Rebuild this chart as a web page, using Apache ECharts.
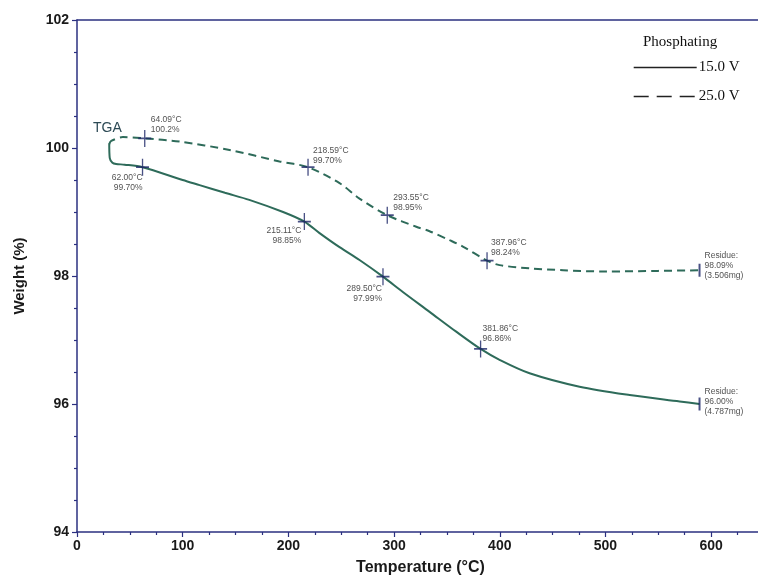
<!DOCTYPE html>
<html>
<head>
<meta charset="utf-8">
<title>TGA</title>
<script src="https://cdn.jsdelivr.net/npm/echarts@6/dist/echarts.min.js"></script>
<style>
html,body{margin:0;padding:0;background:#fff;}
#tga-echarts{width:758px;height:577px;}
</style>
</head>
<body>
<div id="tga-echarts"></div>
<script>
// 15.0 V curve (solid)
var temp15 = [30.5, 31, 33.5, 37, 45, 62.00, 100, 116, 140, 163, 195, 215.11, 229.5, 248.4, 267.3, 289.50, 308.3, 333.6, 358.8, 381.86, 399.8, 428.2, 475.5, 522.9, 570.2, 589],
	weight15 = [100.07, 99.84, 99.77, 99.75, 99.74, 99.70, 99.50, 99.42, 99.30, 99.19, 99.00, 98.85, 98.67, 98.45, 98.25, 97.99, 97.75, 97.44, 97.13, 96.86, 96.69, 96.48, 96.27, 96.14, 96.04, 96.00];

// 25.0 V curve (dashed)
var temp25 = [30.5, 32.4, 43.4, 64.09, 97, 144.3, 191.6, 218.59, 248.4, 267.3, 293.55, 321, 333.6, 352.5, 365.1, 387.96, 399.8, 428.2, 460, 500, 550, 589],
	weight25 = [100.06, 100.11, 100.17, 100.15, 100.10, 99.97, 99.79, 99.70, 99.45, 99.21, 98.95, 98.77, 98.70, 98.56, 98.46, 98.24, 98.17, 98.12, 98.09, 98.07, 98.08, 98.09];

// marked points
var mark15T = [62.00, 215.11, 289.50, 381.86],
	mark15W = [99.70, 98.85, 97.99, 96.86],
	mark15Txt = ['99.70%', '98.85%', '97.99%', '96.86%'],
	mark25T = [64.09, 218.59, 293.55, 387.96],
	mark25W = [100.15, 99.70, 98.95, 98.24],
	mark25Txt = ['100.2%', '99.70%', '98.95%', '98.24%'];

var residueT = [589, 589],
	residueW = [98.09, 96.00],
	residueMass = ['(3.506mg)', '(4.787mg)'];

var seriesNames = ['15.0 V', '25.0 V'],
	xTicks = [0, 650, 100],
	yTicks = [94, 102, 2];

var lineColor = '#2e6b5a',
	axisColor = '#2b3080',
	markColor = '#1c2566',
	plusPath = 'path://M5,0 L5,10 M0,5 L10,5';

function pairs(xs, ys){
	var out = [];
	for(var i=0;i<xs.length;i++) out.push([xs[i], ys[i]]);
	return out;
}

// label placement for each marker: [align, verticalAlign, dx, dy]
var place15 = [['right','top',0,5], ['right','top',-3,4], ['right','top',-1,7], ['left','bottom',2,-5]],
	place25 = [['left','bottom',6,-4], ['left','bottom',5,-2], ['left','bottom',6,-3], ['left','bottom',4,-3]];

function markItems(ts, ws, txt, place){
	var out = [];
	for(var i=0;i<ts.length;i++){
		out.push({
			value: [ts[i], ws[i]],
			label: {
				show: true,
				position: 'inside',
				align: place[i][0],
				verticalAlign: place[i][1],
				offset: [place[i][2], place[i][3]],
				formatter: ts[i].toFixed(2) + '°C\n' + txt[i]
			}
		});
	}
	return out;
}

var residueItems = [];
for(var i=0;i<residueT.length;i++){
	residueItems.push({
		value: [residueT[i], residueW[i]],
		label: {
			show: true,
			position: 'inside',
			align: 'left',
			verticalAlign: 'middle',
			offset: [5, i==0 ? -5 : -2],
			formatter: 'Residue:\n' + residueW[i].toFixed(2) + '%\n' + residueMass[i]
		}
	});
}

var markLabel = {
	color: '#1e1e1e',
	fontFamily: 'Liberation Sans, Arial, sans-serif',
	fontSize: 8.5,
	lineHeight: 10
};

var tga = echarts.init(document.querySelector('#tga-echarts'));

var tgaOption = {
	animation: false,
	backgroundColor: '#fff',
	grid: {
		left: 77,
		top: 20,
		width: 687,
		bottom: 45,
		outerBoundsMode: 'none'
	},
	title: {
		text: 'Phosphating',
		left: 638,
		top: 30,
		textStyle: {
			fontFamily: 'Liberation Serif, Times New Roman, serif',
			fontWeight: 'normal',
			fontSize: 15,
			color: '#111'
		}
	},
	legend: {
		orient: 'vertical',
		left: 628,
		top: 55,
		itemWidth: 63,
		itemHeight: 14,
		itemGap: 14,
		data: [
			{name: seriesNames[0], itemStyle: {opacity: 0}, lineStyle: {color: '#222', width: 1.4, type: 'solid'}},
			{name: seriesNames[1], itemStyle: {opacity: 0}, lineStyle: {color: '#222', width: 1.4, type: [15, 8]}}
		],
		textStyle: {
			fontFamily: 'Liberation Serif, Times New Roman, serif',
			fontSize: 15,
			color: '#111',
			padding: [0, 0, 0, -3]
		}
	},
	graphic: [{
		type: 'text',
		left: 93,
		top: 121,
		style: {
			text: 'TGA',
			font: '14px "Liberation Sans", Arial, sans-serif',
			fill: '#2d4a55'
		}
	}],
	xAxis: [{
		type: 'value',
		min: xTicks[0],
		max: xTicks[1],
		interval: xTicks[2],
		name: 'Temperature (°C)',
		nameLocation: 'middle',
		nameGap: 28,
		nameTextStyle: {
			fontFamily: 'Liberation Sans, Arial, sans-serif',
			fontSize: 16,
			fontWeight: 'bold',
			color: '#1a1a1a'
		},
		axisLine: {onZero: false, lineStyle: {color: axisColor, width: 1.5}},
		axisTick: {length: 5, lineStyle: {color: axisColor, width: 1.2}},
		minorTick: {show: true, splitNumber: 4, length: 3, lineStyle: {color: axisColor, width: 1.2}},
		splitLine: {show: false},
		axisLabel: {
			showMaxLabel: false,
			margin: 7,
			fontFamily: 'Liberation Sans, Arial, sans-serif',
			fontSize: 14,
			fontWeight: 'bold',
			color: '#1a1a1a'
		}
	}, {
		type: 'value',
		position: 'top',
		min: xTicks[0],
		max: xTicks[1],
		axisLine: {onZero: false, lineStyle: {color: axisColor, width: 1.5}},
		axisTick: {show: false},
		axisLabel: {show: false},
		splitLine: {show: false}
	}],
	yAxis: {
		type: 'value',
		min: yTicks[0],
		max: yTicks[1],
		interval: yTicks[2],
		name: 'Weight (%)',
		nameLocation: 'middle',
		nameGap: 50,
		nameTextStyle: {
			fontFamily: 'Liberation Sans, Arial, sans-serif',
			fontSize: 15,
			fontWeight: 'bold',
			color: '#1a1a1a'
		},
		axisLine: {show: true, onZero: false, lineStyle: {color: axisColor, width: 1.5}},
		axisTick: {show: true, length: 5, lineStyle: {color: axisColor, width: 1.2}},
		minorTick: {show: true, splitNumber: 4, length: 3, lineStyle: {color: axisColor, width: 1.2}},
		splitLine: {show: false},
		axisLabel: {
			margin: 8,
			fontFamily: 'Liberation Sans, Arial, sans-serif',
			fontSize: 14,
			fontWeight: 'bold',
			color: '#1a1a1a'
		}
	},
	series: [
		{
			name: seriesNames[0],
			type: 'line',
			data: pairs(temp15, weight15),
			smooth: 0.3,
			symbol: 'none',
			lineStyle: {color: lineColor, width: 2}
		},
		{
			name: seriesNames[1],
			type: 'line',
			data: pairs(temp25, weight25),
			smooth: 0.3,
			symbol: 'none',
			lineStyle: {color: lineColor, width: 2, type: [8, 5]}
		},
		{
			name: 'marks',
			type: 'scatter',
			symbol: plusPath,
			symbolSize: [13, 17],
			itemStyle: {color: 'none', borderColor: markColor, borderWidth: 1.5},
			label: markLabel,
			data: markItems(mark15T, mark15W, mark15Txt, place15).concat(markItems(mark25T, mark25W, mark25Txt, place25)),
			z: 5
		},
		{
			name: 'residue',
			type: 'scatter',
			symbol: 'rect',
			symbolSize: [2, 13],
			itemStyle: {color: markColor},
			label: markLabel,
			data: residueItems,
			z: 5
		}
	]
};

tga.setOption(tgaOption);
</script>
</body>
</html>
